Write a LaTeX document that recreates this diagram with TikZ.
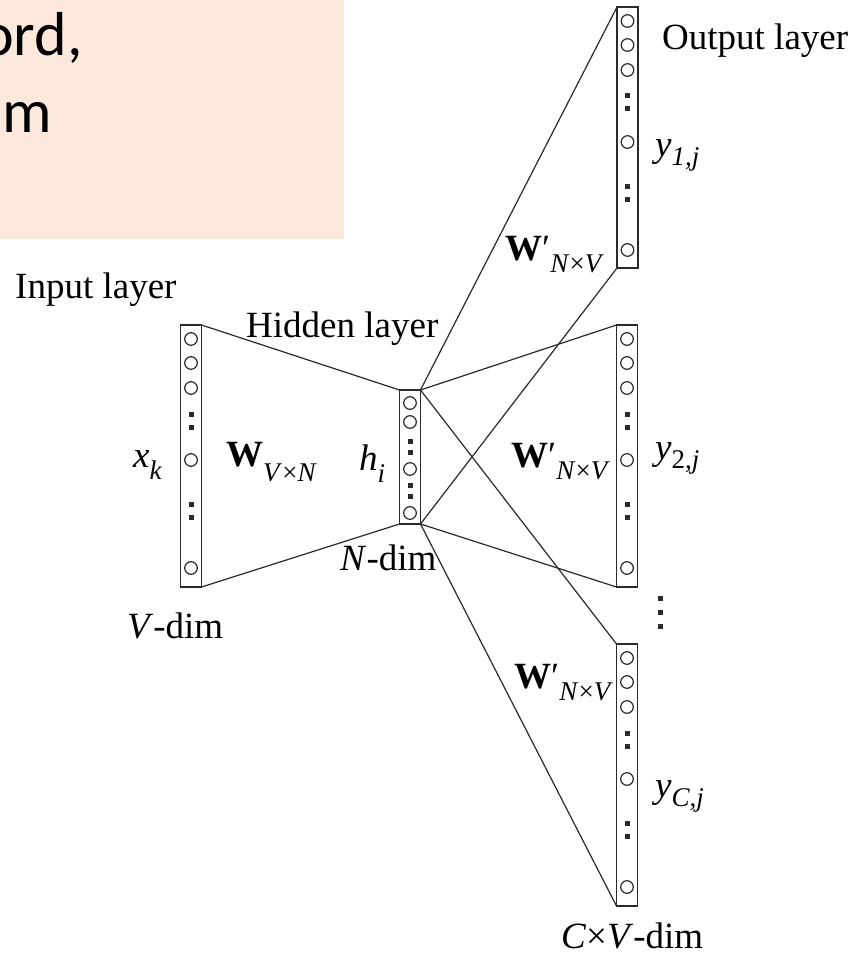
\documentclass[tikz,border=0pt]{standalone}
\usepackage{fontspec}
\setmainfont{Liberation Serif}
\newfontfamily\calib{Carlito}
\definecolor{peach}{HTML}{FCE9DC}
\definecolor{inkc}{HTML}{2A2A2A}
\newcommand\lowsub[2]{\raisebox{-#1pt}{\fontsize{27}{27}\selectfont #2}}
\newcommand\colcircles[2]{%
  \foreach \o in {14,38,63,135,243} \draw[ring] ({#1},{#2+\o}) circle (6.3pt);
  \foreach \o in {89,102,179,192} \fill[inkc] ({#1-2.5},{#2+\o-2.5}) rectangle ({#1+2.5},{#2+\o+2.5});
}
\tikzset{
  layerbox/.style={draw=inkc, line width=1.3pt, minimum width=21pt, inner sep=0pt, outer sep=0pt},
  ring/.style={draw=inkc, line width=1.2pt},
  conn/.style={draw=inkc, line width=1.2pt},
  lbl/.style={anchor=base west, inner sep=0pt, font=\fontsize{37}{37}\selectfont},
  slide/.style={anchor=base west, inner sep=0pt, font=\calib\fontsize{62}{62}\selectfont}
}
\begin{document}
\begin{tikzpicture}[x=1pt,y=-1pt]
\useasboundingbox (0,0) rectangle (865,960);
\clip (0,0) rectangle (865,960);
\fill[white] (0,0) rectangle (865,960);
\fill[peach] (0,0) rectangle (344,239);
\node[slide] (t1) at (-19,56) {ord,};
\node[slide] (t2) at (2,133) {m};

% layer boxes
\node[layerbox, minimum height=262pt] (in) at (191,456) {};
\node[layerbox, minimum height=134pt] (hid) at (410,457) {};
\node[layerbox, minimum height=261pt] (o1) at (627.5,137.5) {};
\node[layerbox, minimum height=262pt] (o2) at (627,456) {};
\node[layerbox, minimum height=262pt] (o3) at (627,775) {};

% connectors
\draw[conn] (in.north east) -- (hid.north west);
\draw[conn] (in.south east) -- (hid.south west);
\foreach \t in {o1,o2,o3}{
  \draw[conn] (hid.north east) -- (\t.north west);
  \draw[conn] (hid.south east) -- (\t.south west);
}

% units
\colcircles{191}{325}
\colcircles{627.5}{7}
\colcircles{627}{325}
\colcircles{627}{644}
\foreach \o in {13,32,79,123} \draw[ring] (410,{390+\o}) circle (6.3pt);
\foreach \o in {51,62,95,106} \fill[inkc] (407.5,{390+\o-2.5}) rectangle (412.5,{390+\o+2.5});

% vertical dots between output layers
\foreach \yy in {598,612,626} \fill[inkc] (657.5,{\yy-2.5}) rectangle (662.5,{\yy+2.5});

% labels
\node[lbl] (lout) at (662,50) {Output layer};
\node[lbl] (lin) at (15,298) {Input layer};
\node[lbl] (lhid) at (246,337) {Hidden layer};
\node[lbl] (lx) at (133,467) {\textit{x}\lowsub{12}{\itshape k}};
\node[lbl] (lw) at (226,466) {\textbf{W}\lowsub{15}{\textit{V}×\textit{N}}};
\node[lbl] (lh) at (359,470) {\textit{h}\lowsub{12}{\itshape i}};
\node[lbl] (lnd) at (340,570) {\textit{N}-dim};
\node[lbl] (lvd) at (127,638) {\textit{V}-dim};
\node[lbl] (lw1) at (505,260) {\textbf{W}′\lowsub{12}{\textit{N}×\textit{V}}};
\node[lbl] (lw2) at (511,467) {\textbf{W}′\lowsub{12}{\textit{N}×\textit{V}}};
\node[lbl] (lw3) at (514,688) {\textbf{W}′\lowsub{12}{\textit{N}×\textit{V}}};
\node[lbl] (ly1) at (655,157) {\textit{y}\lowsub{9}{\itshape 1,j}};
\node[lbl] (ly2) at (655,459) {\textit{y}\lowsub{9}{2,\textit{j}}};
\node[lbl] (ly3) at (655,797) {\textit{y}\lowsub{9}{\itshape C,j}};
\node[lbl] (lcv) at (561,948) {\textit{C}×\textit{V}-dim};
\end{tikzpicture}
\end{document}
